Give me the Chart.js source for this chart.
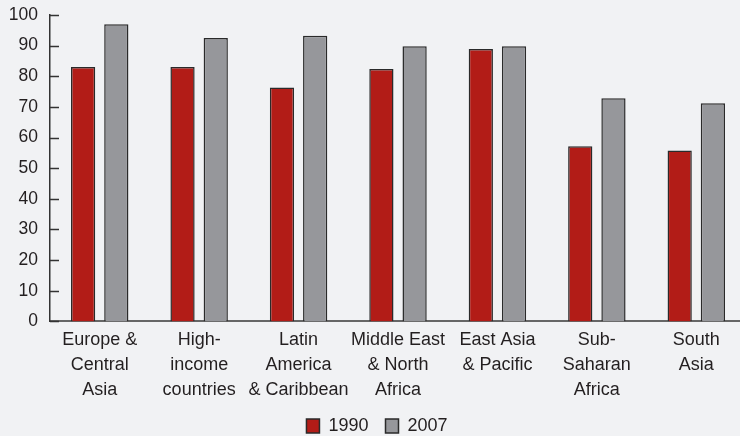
<!DOCTYPE html>
<html>
<head>
  <meta charset="UTF-8">
  <title>1990 vs 2007 by region</title>
  <script src="https://cdn.jsdelivr.net/npm/chart.js"></script>
  <style>
    html, body { margin: 0; padding: 0; background: #f1f2f4; overflow: hidden; }
    /* a few px wider than the window: the x axis runs off the right edge in the original */
    #wrap { width: 746px; height: 436px; }
  </style>
</head>
<body>
<div id="wrap"><canvas id="chart"></canvas></div>
<script>
  const regions = [
    ['Europe &', 'Central', 'Asia'],
    ['High-', 'income', 'countries'],
    ['Latin', 'America', '& Caribbean'],
    ['Middle East', '& North', 'Africa'],
    ['East Asia', '& Pacific'],
    ['Sub-', 'Saharan', 'Africa'],
    ['South', 'Asia']
  ];
  const values1990 = [83, 83, 76.3, 82.4, 88.9, 57.2, 55.8];
  const values2007 = [97, 92.5, 93.2, 89.8, 89.8, 72.8, 71.2];
  const yTicks = [0, 10, 20, 30, 40, 50, 60, 70, 80, 90, 100];

  const FONT = "'Liberation Sans', Arial, sans-serif";
  const INK = '#231f20';

  // tick marks pointing into the plot, like the original
  const innerTicks = {
    id: 'innerTicks',
    afterDraw(chart) {
      const y = chart.scales.y;
      const ctx = chart.ctx;
      ctx.save();
      ctx.strokeStyle = '#333';
      ctx.lineWidth = 1.5;
      yTicks.forEach(v => {
        const py = Math.round(y.getPixelForValue(v)) + 0.5;
        ctx.beginPath();
        ctx.moveTo(y.right, py);
        ctx.lineTo(y.right + 9, py);
        ctx.stroke();
      });
      ctx.restore();
    }
  };

  new Chart(document.getElementById('chart'), {
    type: 'bar',
    data: {
      labels: regions,
      datasets: [
        {
          label: '1990',
          data: values1990,
          backgroundColor: '#b21c17',
          borderColor: '#2a2a2a',
          borderWidth: 1.5,
          categoryPercentage: 0.668,
          barPercentage: 0.73
        },
        {
          label: '2007',
          data: values2007,
          backgroundColor: '#96979b',
          borderColor: '#2a2a2a',
          borderWidth: 1.5,
          categoryPercentage: 0.668,
          barPercentage: 0.73
        }
      ]
    },
    options: {
      responsive: true,
      maintainAspectRatio: false,
      animation: false,
      layout: { padding: { left: 8, right: 0, top: 15, bottom: -9 } },
      scales: {
        x: {
          grid: { display: false, drawTicks: false },
          border: { display: true, color: '#666', width: 2 },
          ticks: {
            color: INK,
            padding: 6,
            maxRotation: 0,
            autoSkip: false,
            font: { family: FONT, size: 18, lineHeight: 1.4 }
          }
        },
        y: {
          min: 0,
          max: 100,
          afterBuildTicks(scale) { scale.ticks = yTicks.map(v => ({ value: v })); },
          afterFit(scale) { scale.width = 42; scale.paddingTop = 0; },
          grid: { display: false, drawTicks: false },
          border: { display: true, color: '#333', width: 1.5 },
          ticks: {
            color: INK,
            padding: 12,
            font: { family: FONT, size: 17.5 }
          }
        }
      },
      plugins: {
        tooltip: { enabled: false },
        legend: {
          position: 'bottom',
          labels: {
            color: INK,
            boxWidth: 13,
            boxHeight: 14,
            padding: 8,
            font: { family: FONT, size: 18 },
            generateLabels(chart) {
              const items = Chart.defaults.plugins.legend.labels.generateLabels(chart);
              // a bit more room between the two keys
              items.forEach((it, i) => { if (i < items.length - 1) it.text += '\u2002'; });
              return items;
            }
          }
        }
      }
    },
    plugins: [innerTicks]
  });
</script>
</body>
</html>
